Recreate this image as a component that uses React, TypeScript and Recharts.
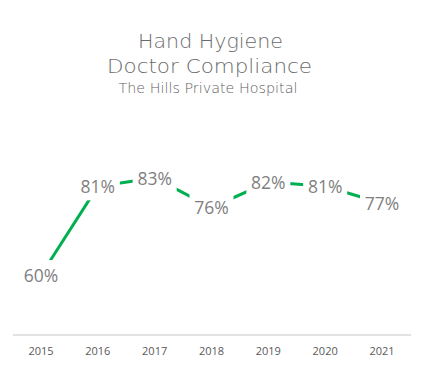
import { LineChart, Line, XAxis, YAxis, LabelList } from "recharts"

const years = ["2015", "2016", "2017", "2018", "2019", "2020", "2021"]
const compliance = [60, 81, 83, 76, 82, 81, 77]

const titleLines = ["Hand Hygiene", "Doctor Compliance"]
const subtitle = "The Hills Private Hospital"

const data = years.map((year, i) => ({ year, value: compliance[i] }))

const GREEN = "#00b050"
const GREY = "#7f7f7f"

// Excel-style data label: white box over the line, value centred on the point
function BoxLabel(props: any) {
  const { x, y, value } = props
  return (
    <g>
      <rect x={x - 22} y={y - 15} width={44} height={29} fill="#ffffff" />
      <text
        x={x} y={y} dy={7} textAnchor="middle"
        fontFamily="'Open Sans', sans-serif" fontSize={17.5} fill={GREY}
      >
        {value}%
      </text>
    </g>
  )
}

export default function App() {
  return (
    <div style={{ position: "absolute", left: 0, top: 0, width: 424, height: 365, background: "#fff" }}>
      <LineChart
        width={424} height={365} data={data}
        margin={{ top: 104, right: 13, bottom: 0, left: 13 }}
      >
        <XAxis
          dataKey="year"
          padding={{ left: 28, right: 29 }}
          axisLine={{ stroke: "#d9d9d9", strokeWidth: 1.5 }}
          tickLine={false} tickSize={6} tickMargin={6}
          tick={{ fill: "#595959", fontSize: 11, fontFamily: "'Open Sans', sans-serif" }}
          height={30}
        />
        <YAxis hide domain={[45.8, 100.5]} />
        <Line
          dataKey="value" type="linear"
          stroke={GREEN} strokeWidth={3}
          dot={false} activeDot={false}
          isAnimationActive={false}
        >
          <LabelList dataKey="value" content={BoxLabel} />
        </Line>
      </LineChart>

      <svg width={424} height={110} style={{ position: "absolute", left: 0, top: 0, pointerEvents: "none" }}>
        <g fontFamily="'DejaVu Sans', sans-serif" fontWeight={200} fill="#6b6b6b" textAnchor="middle">
          <text x={210.5} y={48.3} fontSize={19.2} textLength={145} lengthAdjust="spacingAndGlyphs">
            {titleLines[0]}
          </text>
          <text x={209.5} y={73.3} fontSize={19.2} textLength={205} lengthAdjust="spacingAndGlyphs">
            {titleLines[1]}
          </text>
          <text x={208} y={93.3} fontSize={13.7} textLength={179} lengthAdjust="spacingAndGlyphs" fill="#5f5f5f">
            {subtitle}
          </text>
        </g>
      </svg>
    </div>
  )
}
